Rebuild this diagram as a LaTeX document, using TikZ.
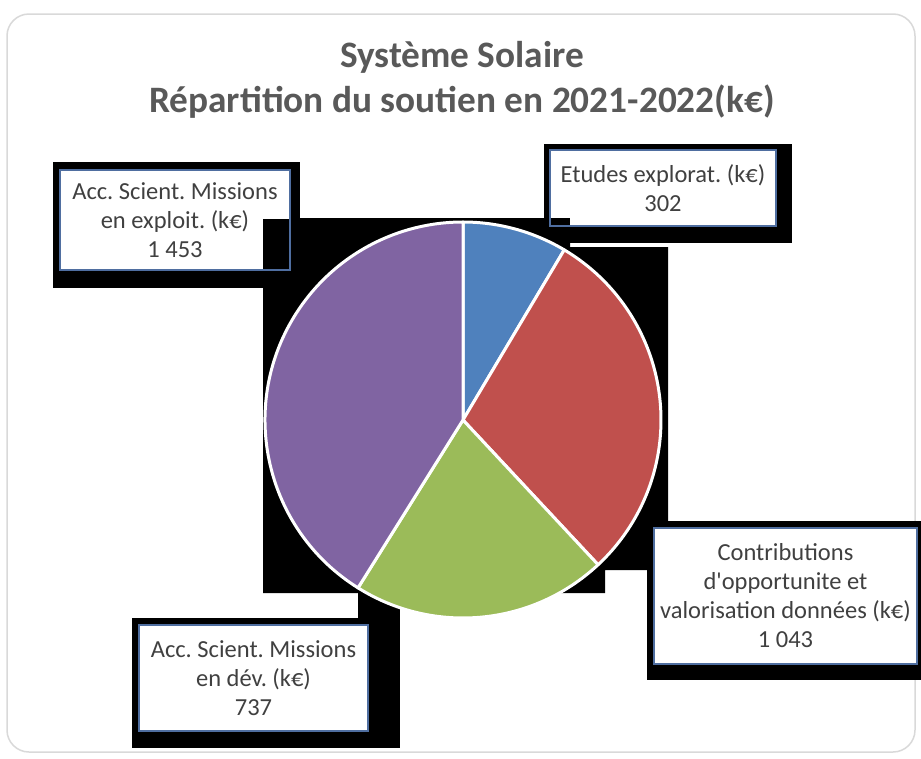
\documentclass[tikz,border=0pt]{standalone}
\usepackage{fontspec}
\setmainfont{Carlito}[Ligatures=TeXOff]
\usepackage{tikz}
\frenchspacing

\definecolor{pieblue}{RGB}{79,129,189}
\definecolor{piered}{RGB}{192,80,77}
\definecolor{piegreen}{RGB}{155,187,89}
\definecolor{piepurple}{RGB}{128,100,162}
\definecolor{titlegray}{RGB}{89,89,89}
\definecolor{labelgray}{RGB}{64,64,64}
\definecolor{boxline}{RGB}{79,110,160}
\definecolor{framegray}{RGB}{217,217,217}

\tikzset{
  lbl/.style={draw=boxline, line width=1.2pt, fill=white, inner sep=0pt, align=center,
    text=labelgray, font=\fontsize{24.5}{29}\selectfont},
  slice/.style={draw=white, line width=3pt, line join=round},
}

\begin{document}
\begin{tikzpicture}[x=1pt,y=-1pt]
  \useasboundingbox (0,0) rectangle (921,758);
  \fill[white] (0,0) rectangle (921,758);
  \draw[framegray, line width=1.5pt, rounded corners=22pt] (7,14) rectangle (915,752);

  \node[font=\fontsize{37.3}{45}\selectfont\bfseries, text=titlegray, align=center] (titre) at (462,80)
    {Système Solaire\\Répartition du soutien en 2021-2022(k€)};

  % black plot area and shadows
  \fill[black] (263,218) -- (570,218) -- (570,247) -- (668,247) -- (668,570)
    -- (605,570) -- (605,593) -- (263,593) -- cycle;
  \fill[black] (53,162) rectangle (300,288);
  \fill[black] (544,144) rectangle (792,243);
  \fill[black] (647,521) rectangle (921,680);
  \fill[black] (132,618) rectangle (400,748);
  \fill[black] (358,593) rectangle (400,618);

  \node[lbl, minimum width=230, minimum height=100] (exploit) at (175,220)
    {Acc. Scient. Missions\\en exploit. (k€)\\1 453};
  \node[lbl, minimum width=226, minimum height=76] (etudes) at (663,188)
    {Etudes explorat. (k€)\\302};
  \node[lbl, minimum width=263, minimum height=136] (contrib) at (785.5,596)
    {Contributions\\d'opportunite et\\valorisation données (k€)\\1 043};
  \node[lbl, minimum width=229, minimum height=106] (dev) at (253.5,678)
    {Acc. Scient. Missions\\en dév. (k€)\\737};

  % plot area over the boxes
  \fill[black] (263,218.6) rectangle (289.4,269.4);
  \fill[black] (550.6,218) rectangle (570,225.4);

  % pie
  \coordinate (c) at (463,420);
  \def\r{198}
  \foreach \a/\b/\col in {-90/-59.245/pieblue, -59.245/46.973/piered,
                          46.973/122.027/piegreen, 122.027/270/piepurple}
    \filldraw[slice, fill=\col] (c) -- ++(\a:\r) arc[start angle=\a, end angle=\b, radius=\r] -- cycle;
\end{tikzpicture}
\end{document}
